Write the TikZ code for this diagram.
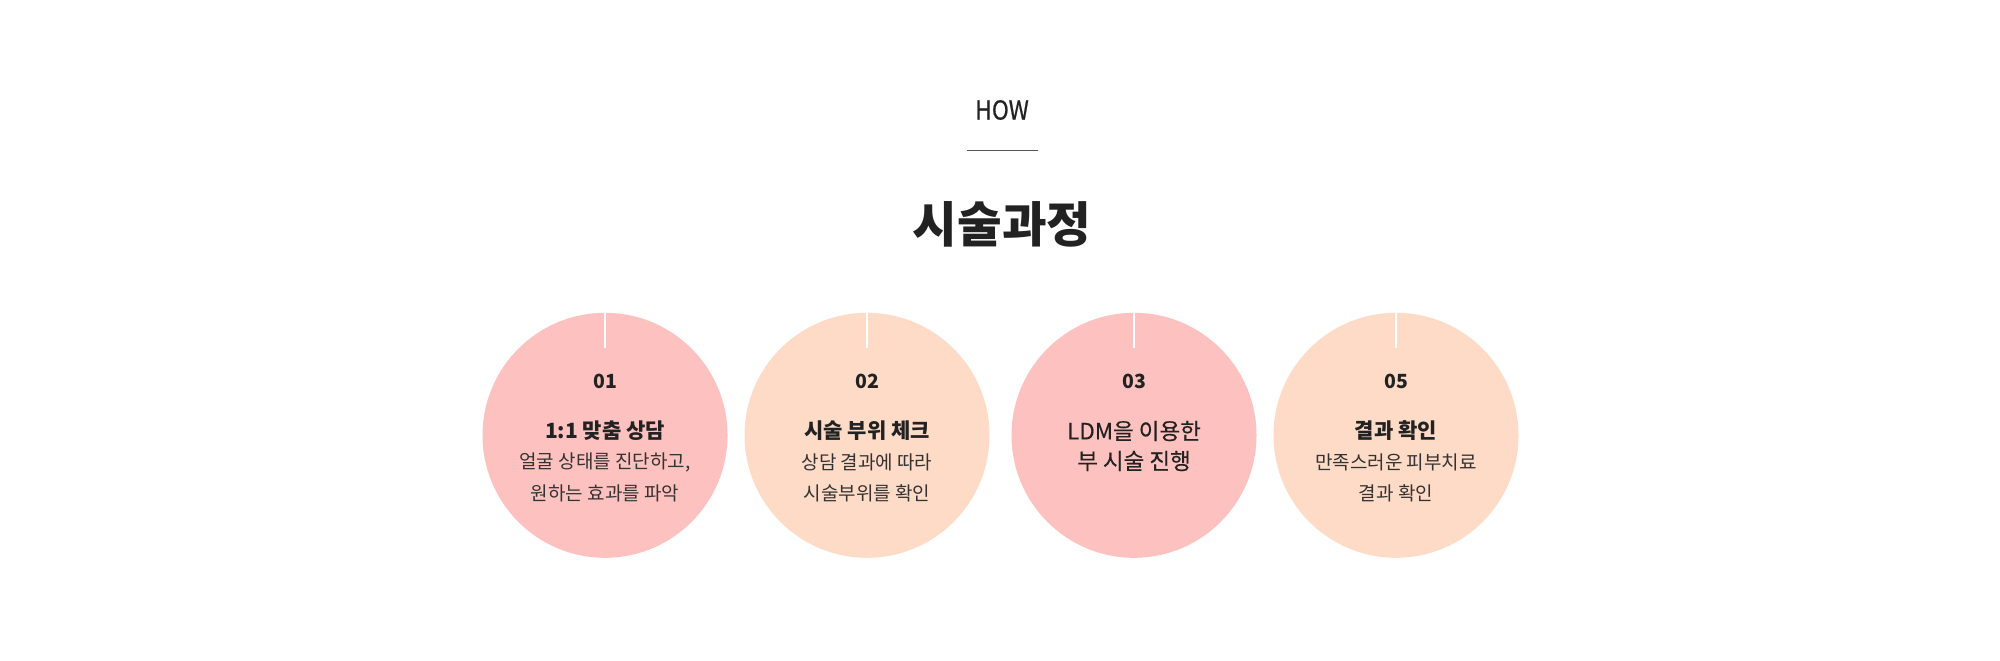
\documentclass[tikz,border=0pt]{standalone}
\usepackage{fontspec}
\setmainfont{Noto Sans CJK KR}
\definecolor{pinkc}{HTML}{FDC2BF}
\definecolor{peachc}{HTML}{FEDBC7}
\definecolor{txt}{HTML}{222222}
\definecolor{subtxt}{HTML}{333333}
\definecolor{rulec}{HTML}{555555}
\tikzset{
  stepcircle/.style={circle, minimum size=245pt, inner sep=0pt, draw=none},
  numtxt/.style={inner sep=0pt, text=txt, font=\fontsize{19.5}{22}\selectfont\bfseries},
  headtxt/.style={inner sep=0pt, text=txt, font=\fontsize{21}{24}\selectfont\bfseries},
  plaintxt/.style={inner sep=0pt, text=txt, font=\fontsize{22.5}{26}\selectfont\addfontfeature{FakeBold=0.4}},
  subtext/.style={inner sep=0pt, text=subtxt, font=\fontsize{19}{22}\selectfont},
  tick/.style={white, line width=1.3pt}
}
\begin{document}
\begin{tikzpicture}[x=1pt,y=-1pt]
\useasboundingbox[fill=white] (0,0) rectangle (2000,661);

% header
\node[inner sep=0pt, text=txt, font=\fontsize{26}{28}\selectfont\addfontfeature{FakeBold=0.8}] (how) at (1002,110) {\scalebox{0.88}[1]{HOW}};
\coordinate (ruleL) at (967,150.5);
\coordinate (ruleR) at (1038,150.5);
\draw[rulec, line width=1pt] (ruleL) -- (ruleR);
\node[inner sep=0pt, text=txt, font=\fontsize{48.5}{52}\selectfont\bfseries] (title) at (1002,224) {시술과정};

% circles
\node[stepcircle, fill=pinkc] (c1) at (605,435.3) {};
\node[stepcircle, fill=peachc] (c2) at (867,435.3) {};
\node[stepcircle, fill=pinkc] (c3) at (1134,435.3) {};
\node[stepcircle, fill=peachc] (c4) at (1396,435.3) {};

% white ticks
\foreach \c in {c1,c2,c3,c4}{
  \coordinate (\c t) at ([yshift=-35pt]\c.north);
  \draw[tick] (\c.north) -- (\c t);
}

% step 1
\node[numtxt] (n1) at (605,381.5) {01};
\node[headtxt] (h1) at (605,431) {1:1 맞춤 상담};
\node[subtext] (s1a) at (605,462.5) {얼굴 상태를 진단하고,};
\node[subtext] (s1b) at (605,493) {원하는 효과를 파악};

% step 2
\node[numtxt] (n2) at (867,381.5) {02};
\node[headtxt] (h2) at (867,431) {시술 부위 체크};
\node[subtext] (s2a) at (867,462.5) {상담 결과에 따라};
\node[subtext] (s2b) at (867,493) {시술부위를 확인};

% step 3
\node[numtxt] (n3) at (1134,381.5) {03};
\node[plaintxt] (h3a) at (1134,431) {LDM을 이용한};
\node[plaintxt] (h3b) at (1134,461) {부 시술 진행};

% step 4
\node[numtxt] (n4) at (1396,381.5) {05};
\node[headtxt] (h4) at (1396,431) {결과 확인};
\node[subtext] (s4a) at (1396,462.5) {만족스러운 피부치료};
\node[subtext] (s4b) at (1396,493) {결과 확인};
\end{tikzpicture}
\end{document}
